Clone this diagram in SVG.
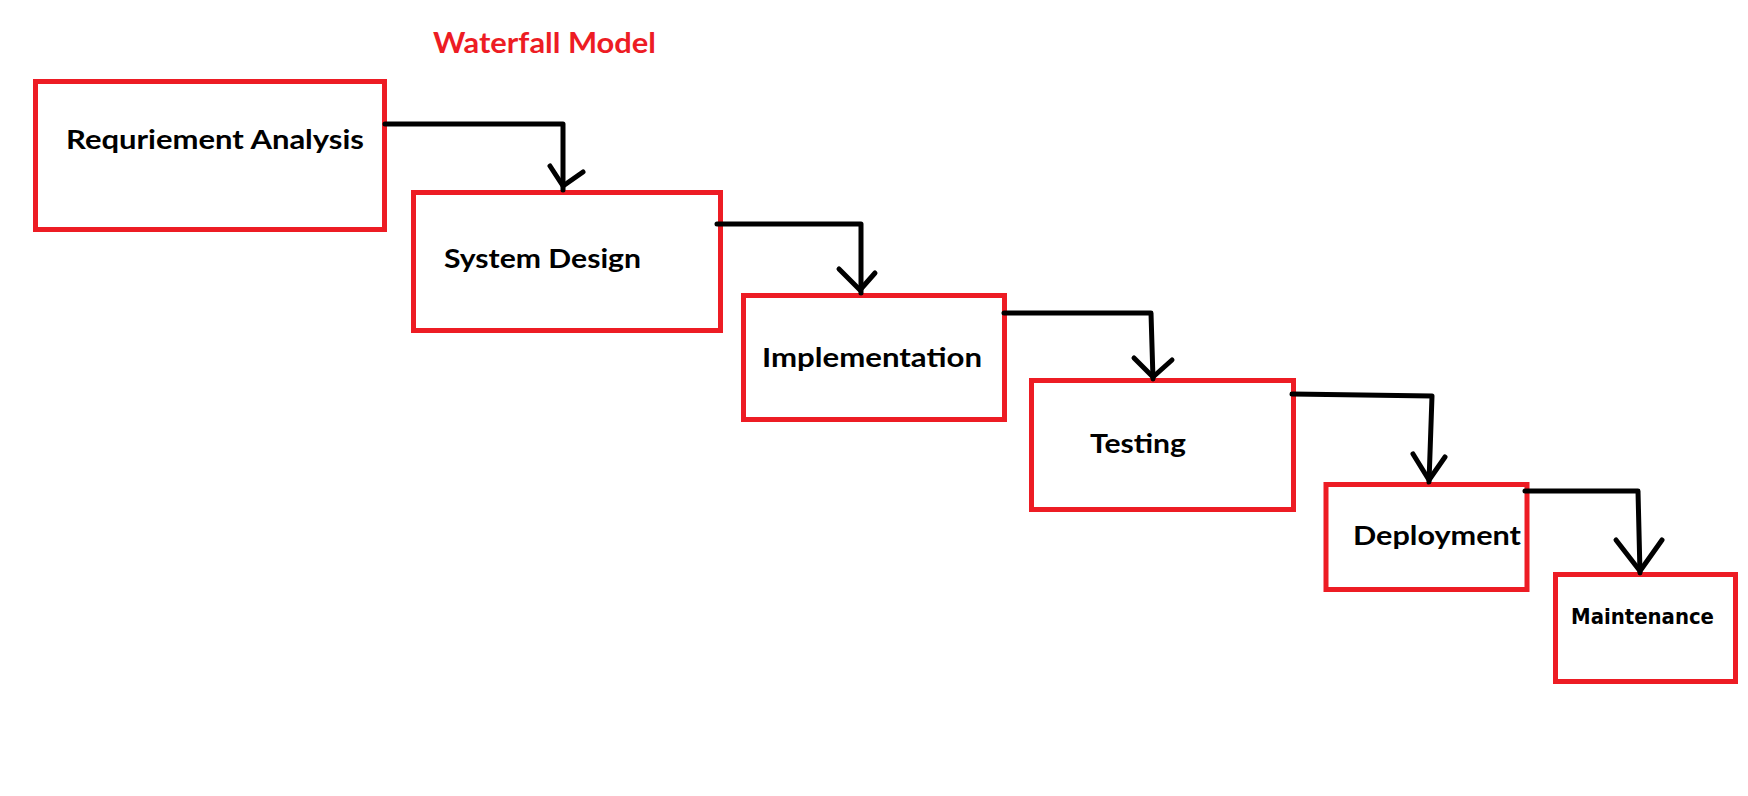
<svg xmlns="http://www.w3.org/2000/svg" width="1748" height="796" viewBox="0 0 1748 796">
<style>
.box{fill:#fff;stroke:#ED1C24;stroke-width:5}
.lbl{font-family:Lato,"Open Sans","Liberation Sans",sans-serif;font-weight:bold;font-size:27px;fill:#000}
.title{font-family:Lato,"Open Sans","Liberation Sans",sans-serif;font-weight:bold;font-size:29px;fill:#ED1C24}
.small{font-family:"DejaVu Sans",Verdana,sans-serif;font-weight:bold;font-size:21px;fill:#000}
.conn path{fill:none;stroke:#000;stroke-width:5;stroke-linecap:round;stroke-linejoin:round}
</style>
<rect width="1748" height="796" fill="#fff"/>
<text class="title" x="433" y="53" textLength="223" lengthAdjust="spacingAndGlyphs">Waterfall Model</text>
<g id="requirement-analysis">
<rect class="box" x="35.5" y="81.5" width="349" height="148"/>
<text class="lbl" x="66" y="149" textLength="298" lengthAdjust="spacingAndGlyphs">Requriement Analysis</text>
</g>
<g id="system-design">
<rect class="box" x="413.5" y="192.5" width="307" height="138"/>
<text class="lbl" x="444" y="268" textLength="197" lengthAdjust="spacingAndGlyphs">System Design</text>
</g>
<g id="implementation">
<rect class="box" x="743.5" y="295.5" width="261" height="124"/>
<text class="lbl" x="762" y="367" textLength="220" lengthAdjust="spacingAndGlyphs">Implementation</text>
</g>
<g id="testing">
<rect class="box" x="1031.5" y="380.5" width="262" height="129"/>
<text class="lbl" x="1090" y="453" textLength="96" lengthAdjust="spacingAndGlyphs">Testing</text>
</g>
<g id="deployment">
<rect class="box" x="1326" y="484.5" width="201" height="105"/>
<text class="lbl" x="1353" y="545" textLength="168" lengthAdjust="spacingAndGlyphs">Deployment</text>
</g>
<g id="maintenance">
<rect class="box" x="1555.5" y="574.5" width="180" height="107"/>
<text class="small" x="1571" y="624" textLength="143" lengthAdjust="spacingAndGlyphs">Maintenance</text>
</g>
<g id="connectors" class="conn">
<path d="M385,124 H563 V190"/>
<path d="M550,166 L563,186 L583,172"/>
<path d="M717,224 H861 V293"/>
<path d="M839,269 L860,290 L875,273"/>
<path d="M1004,313 H1151 L1153,379"/>
<path d="M1134,358 L1153,377 L1172,360"/>
<path d="M1292,394 L1432,396 L1429,482"/>
<path d="M1413,454 L1429,480 L1445,457"/>
<path d="M1525,491 H1638 L1640,573"/>
<path d="M1616,540 L1640,571 L1662,540"/>
</g>
</svg>
